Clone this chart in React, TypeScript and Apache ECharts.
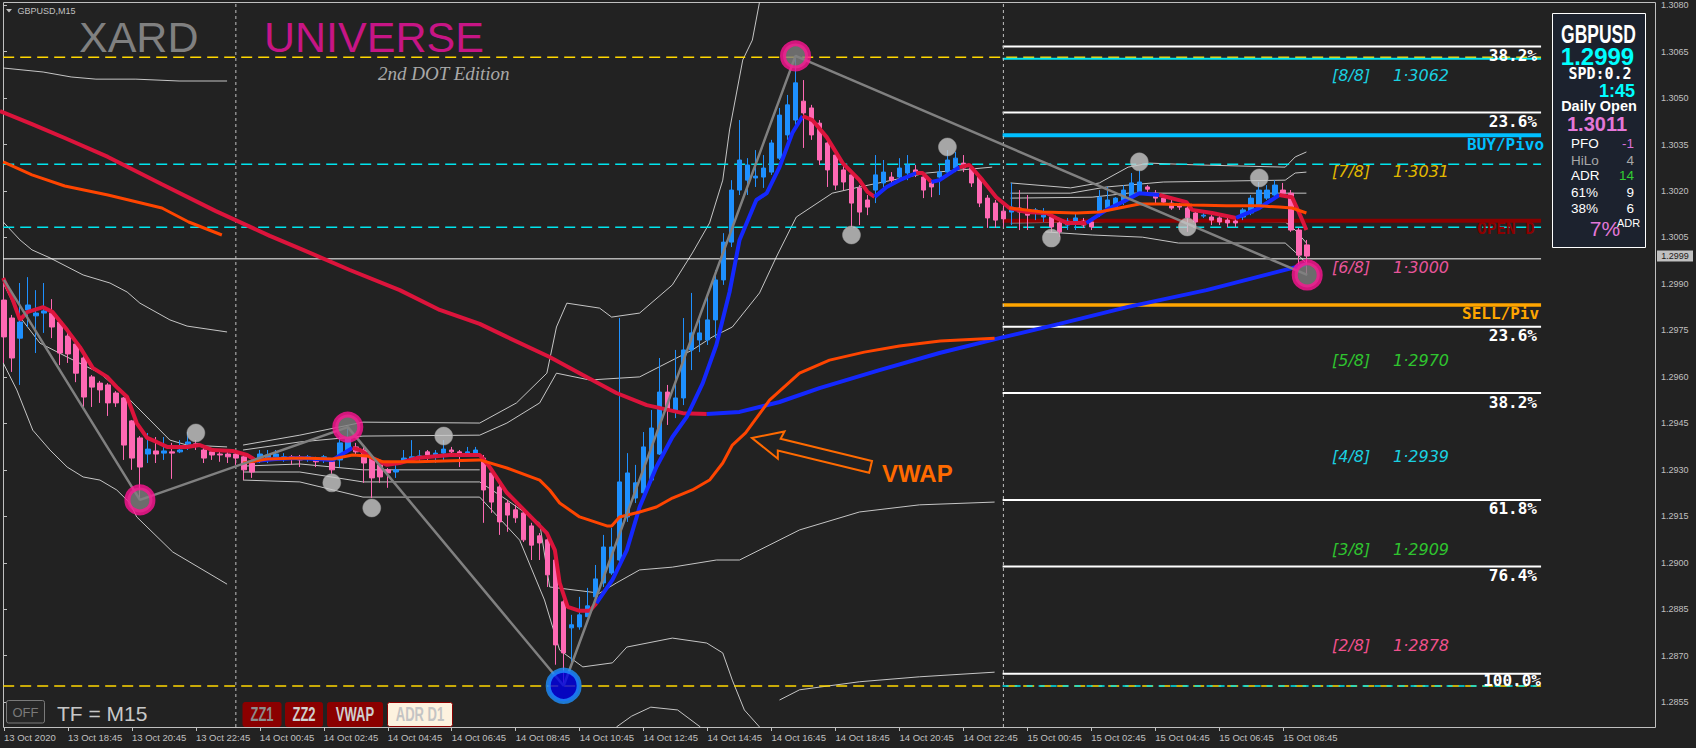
import React, { useEffect, useRef } from "react";
import * as echarts from "echarts";

// ---------------- data ----------------
const timeLabels = [
  "13 Oct 2020", "13 Oct 18:45", "13 Oct 20:45", "13 Oct 22:45", "14 Oct 00:45", "14 Oct 02:45",
  "14 Oct 04:45", "14 Oct 06:45", "14 Oct 08:45", "14 Oct 10:45", "14 Oct 12:45", "14 Oct 14:45",
  "14 Oct 16:45", "14 Oct 18:45", "14 Oct 20:45", "14 Oct 22:45", "15 Oct 00:45", "15 Oct 02:45",
  "15 Oct 04:45", "15 Oct 06:45", "15 Oct 08:45",
];
const barsPerLabel = 8;
const slotCount = 207;
const yMin = 1.2847;
const yMax = 1.3081;
const yTicks = [1.2855, 1.287, 1.2885, 1.29, 1.2915, 1.293, 1.2945, 1.296, 1.2975, 1.299, 1.3005, 1.302, 1.3035, 1.305, 1.3065, 1.308];
const lastPrice = 1.2999;
const daySeparators = [29, 125];

// [open, close, low, high]
const candles: number[][] = [
  [1.29848, 1.29729, 1.29645, 1.29913], [1.2979, 1.29661, 1.29616, 1.298], [1.29725, 1.29777, 1.29574, 1.29903],
  [1.29816, 1.29832, 1.29761, 1.29922], [1.29797, 1.29806, 1.29677, 1.2988], [1.29806, 1.29813, 1.29742, 1.29903],
  [1.29806, 1.29761, 1.29725, 1.29851], [1.29777, 1.29677, 1.29638, 1.29784], [1.29732, 1.29674, 1.29645, 1.29742],
  [1.29706, 1.29612, 1.29583, 1.29706], [1.29661, 1.29535, 1.29503, 1.29667], [1.296, 1.29567, 1.29503, 1.29606],
  [1.2958, 1.29558, 1.29516, 1.29587], [1.29574, 1.29516, 1.29474, 1.2958], [1.29548, 1.29516, 1.29503, 1.29554],
  [1.29532, 1.2938, 1.29332, 1.29535], [1.29458, 1.29338, 1.293, 1.29461], [1.29403, 1.29309, 1.29203, 1.29409],
  [1.29351, 1.29367, 1.29322, 1.29419], [1.29361, 1.29351, 1.29322, 1.29406], [1.29354, 1.29361, 1.29332, 1.29406],
  [1.29358, 1.29354, 1.29271, 1.29387], [1.29358, 1.29364, 1.29354, 1.29396], [1.29384, 1.2939, 1.29364, 1.29422],
  [1.29384, 1.29377, 1.29364, 1.29396], [1.29364, 1.29338, 1.29322, 1.29374], [1.29358, 1.29348, 1.29332, 1.29364],
  [1.29351, 1.29348, 1.29326, 1.29358], [1.29351, 1.29342, 1.29322, 1.29358], [1.29351, 1.29338, 1.29316, 1.29358],
  [1.29342, 1.293, 1.29267, 1.29348], [1.29322, 1.29293, 1.29274, 1.29342], [1.29338, 1.29351, 1.29322, 1.29364],
  [1.29338, 1.29348, 1.29322, 1.29364], [1.29342, 1.29351, 1.29332, 1.29364], [1.29338, 1.29342, 1.29326, 1.29354],
  [1.29342, 1.29335, 1.29316, 1.29348], [1.29338, 1.29332, 1.29309, 1.29348], [1.29335, 1.29342, 1.29326, 1.29348],
  [1.29335, 1.29326, 1.29309, 1.29342], [1.29332, 1.29342, 1.29322, 1.29348], [1.29326, 1.293, 1.29287, 1.29338],
  [1.29332, 1.29387, 1.29309, 1.29406], [1.29364, 1.29403, 1.29354, 1.29438], [1.29374, 1.29358, 1.29348, 1.29387],
  [1.29364, 1.29322, 1.29258, 1.29374], [1.29338, 1.29274, 1.29209, 1.29348], [1.29316, 1.29277, 1.29258, 1.29322],
  [1.293, 1.2929, 1.29242, 1.29306], [1.29293, 1.293, 1.29274, 1.29316], [1.29326, 1.29338, 1.29322, 1.29364],
  [1.29332, 1.29342, 1.29322, 1.29396], [1.29338, 1.29345, 1.29322, 1.29364], [1.29358, 1.29348, 1.29332, 1.29364],
  [1.29345, 1.29354, 1.29322, 1.29364], [1.29354, 1.29367, 1.29332, 1.29396], [1.29364, 1.29358, 1.29348, 1.29374],
  [1.29358, 1.29354, 1.29309, 1.29364], [1.29351, 1.29358, 1.29342, 1.29374], [1.29351, 1.29364, 1.29342, 1.29374],
  [1.29338, 1.29235, 1.29129, 1.29348], [1.2929, 1.29196, 1.29161, 1.293], [1.29245, 1.29132, 1.2909, 1.29258],
  [1.29193, 1.29154, 1.291, 1.29203], [1.29171, 1.29145, 1.29129, 1.29187], [1.29161, 1.29074, 1.29067, 1.29171],
  [1.29119, 1.29057, 1.29009, 1.29129], [1.29087, 1.29064, 1.29009, 1.29096], [1.29074, 1.28961, 1.28922, 1.29083],
  [1.29009, 1.28735, 1.28671, 1.29019], [1.28874, 1.28709, 1.28603, 1.2888], [1.2879, 1.288, 1.28677, 1.28832],
  [1.28793, 1.28832, 1.28784, 1.2889], [1.28826, 1.28861, 1.28826, 1.28919], [1.2889, 1.28948, 1.2888, 1.28993],
  [1.28935, 1.29051, 1.28922, 1.2909], [1.28967, 1.29051, 1.28961, 1.29113], [1.29009, 1.29261, 1.29003, 1.2979],
  [1.29148, 1.2929, 1.29132, 1.29354], [1.29209, 1.29258, 1.29193, 1.29316], [1.29226, 1.29374, 1.29209, 1.29422],
  [1.29267, 1.29435, 1.29258, 1.29493], [1.29351, 1.29551, 1.29348, 1.29661], [1.29551, 1.29493, 1.29445, 1.29574],
  [1.29493, 1.29532, 1.29467, 1.29687], [1.29532, 1.29687, 1.29509, 1.2979], [1.29687, 1.29742, 1.29622, 1.29871],
  [1.29719, 1.29742, 1.2968, 1.29784], [1.29719, 1.29784, 1.29703, 1.29871], [1.29784, 1.29913, 1.29725, 1.29945],
  [1.29913, 1.30035, 1.29897, 1.30064], [1.30035, 1.30203, 1.30019, 1.30235], [1.30203, 1.303, 1.30187, 1.30429],
  [1.30235, 1.30284, 1.30187, 1.30306], [1.30242, 1.30248, 1.30213, 1.30332], [1.30245, 1.30274, 1.3021, 1.30316],
  [1.30261, 1.30355, 1.30252, 1.30365], [1.30306, 1.30445, 1.303, 1.30468], [1.30381, 1.30478, 1.30365, 1.3051],
  [1.30429, 1.30549, 1.30413, 1.30636], [1.3049, 1.30452, 1.30339, 1.30558], [1.30468, 1.30381, 1.30365, 1.30478],
  [1.30419, 1.303, 1.30284, 1.30429], [1.30355, 1.30268, 1.30213, 1.30365], [1.30316, 1.30219, 1.30203, 1.30332],
  [1.30268, 1.30229, 1.30203, 1.30284], [1.30252, 1.30161, 1.30084, 1.30268], [1.3021, 1.30132, 1.3009, 1.30219],
  [1.30171, 1.30148, 1.30122, 1.30187], [1.30203, 1.30252, 1.30161, 1.30316], [1.30226, 1.30261, 1.30213, 1.303],
  [1.30245, 1.30235, 1.30219, 1.30261], [1.30245, 1.30274, 1.30229, 1.30306], [1.30258, 1.30284, 1.30235, 1.30316],
  [1.30268, 1.30261, 1.30245, 1.30284], [1.30245, 1.30203, 1.30177, 1.30261], [1.30226, 1.30213, 1.3018, 1.30235],
  [1.30245, 1.30261, 1.30187, 1.30284], [1.30261, 1.303, 1.30245, 1.30332], [1.30274, 1.30306, 1.30261, 1.30326],
  [1.3029, 1.30274, 1.30261, 1.30316], [1.30274, 1.30226, 1.30213, 1.30284], [1.30245, 1.30161, 1.30148, 1.30252],
  [1.30177, 1.30113, 1.30081, 1.30187], [1.30161, 1.30106, 1.30081, 1.30171], [1.30135, 1.3011, 1.30084, 1.30155],
  [1.30132, 1.30148, 1.3009, 1.30226], [1.30145, 1.30132, 1.30074, 1.30203], [1.30139, 1.30122, 1.30074, 1.30187],
  [1.30129, 1.30139, 1.30106, 1.30145], [1.30116, 1.30122, 1.301, 1.30145], [1.30116, 1.30084, 1.30068, 1.30122],
  [1.30097, 1.30068, 1.30052, 1.30106], [1.3009, 1.30103, 1.30074, 1.30113], [1.301, 1.30113, 1.30074, 1.30132],
  [1.30103, 1.3009, 1.30081, 1.30113], [1.301, 1.30084, 1.30074, 1.30106], [1.30129, 1.3018, 1.30116, 1.30203],
  [1.30145, 1.30171, 1.30139, 1.30213], [1.30148, 1.30177, 1.30139, 1.3018], [1.30164, 1.30203, 1.30155, 1.30219],
  [1.3018, 1.30226, 1.30171, 1.30258], [1.30197, 1.30229, 1.30187, 1.30268], [1.30213, 1.30206, 1.30197, 1.30219],
  [1.30193, 1.30177, 1.30161, 1.30203], [1.30177, 1.30164, 1.30155, 1.30187], [1.30161, 1.30145, 1.30139, 1.30171],
  [1.30155, 1.30148, 1.30139, 1.30161], [1.30145, 1.30113, 1.30068, 1.30155], [1.30129, 1.301, 1.30084, 1.30139],
  [1.30119, 1.30122, 1.30113, 1.30132], [1.30116, 1.30106, 1.3009, 1.30122], [1.30113, 1.301, 1.3009, 1.30119],
  [1.30106, 1.30097, 1.30084, 1.30113], [1.30103, 1.30097, 1.30084, 1.3011], [1.30116, 1.30139, 1.30106, 1.30145],
  [1.30129, 1.30177, 1.30122, 1.30187], [1.30155, 1.30203, 1.30145, 1.30229], [1.30177, 1.30203, 1.30171, 1.30219],
  [1.30187, 1.30219, 1.3018, 1.30235], [1.30203, 1.30193, 1.30187, 1.30226], [1.30193, 1.30074, 1.30068, 1.30203],
  [1.30074, 1.29993, 1.29961, 1.30081], [1.30026, 1.2999, 1.29929, 1.30042],
];

// fast moving average, split into falling (red) and rising (blue) runs: [bar, price]
const fastMaRuns: [string, number[][]][] = [
  ["down", [[-0.1, 1.29919], [1.1, 1.29848], [2, 1.29784], [2.9, 1.29809], [4.9, 1.29825], [6.1, 1.29809], [7.9, 1.29751], [9.5, 1.29696], [11.1, 1.29629], [12.9, 1.296], [14.1, 1.29567], [15.4, 1.29535], [16.6, 1.29451], [17.9, 1.29403], [19.1, 1.2939], [20.4, 1.29374], [22.9, 1.29374], [24.5, 1.2938], [26.1, 1.29364], [28.6, 1.29361], [30.4, 1.29348], [31.6, 1.29329]]],
  ["up", [[31.6, 1.29329], [34, 1.29335], [37, 1.29338], [41.1, 1.29332], [43.6, 1.29371]]],
  ["down", [[43.6, 1.29371], [44.5, 1.29364], [46.1, 1.29338], [47.9, 1.29316], [49.5, 1.29322], [51.6, 1.29338], [55.75, 1.29348], [59.5, 1.29348], [60.75, 1.29309], [62.9, 1.29226], [65.4, 1.29161], [67.9, 1.29096], [68.9, 1.29041], [69.5, 1.28935], [70.5, 1.28858], [72, 1.28845], [73.25, 1.28845], [74.1, 1.2887]]],
  ["up", [[74.1, 1.2887], [76.1, 1.28945], [77.9, 1.29041], [79.5, 1.2918], [81.6, 1.29309], [83.6, 1.29406], [85.4, 1.29471], [87.4, 1.2958], [89.1, 1.29703], [90.75, 1.29874], [92, 1.30042], [94.1, 1.30171], [95.4, 1.30193], [97, 1.30277], [98.6, 1.30387], [99.9, 1.30442]]],
  ["down", [[99.9, 1.30442], [101.1, 1.30429], [102.9, 1.30374], [104.9, 1.3029], [107, 1.30235], [108, 1.30197], [108.9, 1.30181]]],
  ["up", [[108.9, 1.30181], [110.4, 1.30213], [112, 1.30235], [114.1, 1.30258]]],
  ["down", [[114.1, 1.30258], [114.9, 1.30258], [116, 1.30229]]],
  ["up", [[116, 1.30229], [117, 1.30235], [119.5, 1.30277]]],
  ["down", [[119.5, 1.30277], [120.75, 1.30284], [122.4, 1.30235], [124.1, 1.3018], [125.75, 1.30145], [127.9, 1.30132], [130.4, 1.30129], [131.6, 1.30113], [132.9, 1.30097], [135.4, 1.30097]]],
  ["up", [[135.4, 1.30097], [137.9, 1.30139], [140.4, 1.30171], [142, 1.30193], [144.5, 1.30187]]],
  ["down", [[144.5, 1.30187], [147.9, 1.30164], [148.6, 1.30139], [151.1, 1.30129], [154.1, 1.30113]]],
  ["up", [[154.1, 1.30113], [157, 1.30145], [159.5, 1.30187]]],
  ["down", [[159.5, 1.30187], [161.1, 1.3018], [162, 1.30129], [162.9, 1.30074]]],
];

// slow moving average
const slowMaRuns: [string, number[][]][] = [
  ["down", [[-0.5, 1.30458], [3.5, 1.30416], [7.6, 1.30371], [13, 1.3031], [19.75, 1.30222], [26.5, 1.30135], [33.25, 1.30055], [37.4, 1.3001], [43.25, 1.29945], [49.5, 1.2988], [54.5, 1.29816], [59.5, 1.29771], [62.9, 1.29729], [68.25, 1.29664], [72.4, 1.29606], [76.6, 1.29548], [80.4, 1.29509], [84.9, 1.29483], [87.9, 1.2948]]],
  ["up", [[87.9, 1.2948], [92, 1.29487], [97, 1.29519], [102, 1.29564], [109.5, 1.29622], [117, 1.29677], [124.5, 1.29725], [132, 1.29771], [140.6, 1.29826], [150.4, 1.2988], [161.1, 1.29951], [162.9, 1.29964]]],
];

// daily VWAP lines
const vwap13 = [[-0.1, 1.30294], [3.5, 1.30252], [7.6, 1.30216], [13, 1.30187], [19.75, 1.30145], [23.1, 1.301], [27.25, 1.30058]];
const vwap14 = [[29.9, 1.29322], [32.9, 1.29335], [37, 1.29338], [41.1, 1.29335], [43.6, 1.29348], [45.4, 1.29345], [47.4, 1.29326], [51.6, 1.29326], [59.5, 1.29332], [62.9, 1.29306], [67, 1.29267], [68.25, 1.29235], [69.5, 1.29193], [72, 1.29148], [75.4, 1.29119], [76, 1.29119], [77, 1.29148], [79.5, 1.29164], [81.6, 1.2918], [83.6, 1.29209], [86.1, 1.29235], [88.25, 1.29267], [89.9, 1.29322], [91.1, 1.2938], [92.75, 1.29419], [95.75, 1.29525], [99.5, 1.29612], [103.25, 1.29654], [107.6, 1.2968], [112, 1.297], [117.1, 1.29716], [123.9, 1.29725]];
const vwap15 = [[125.75, 1.30145], [129.9, 1.30132], [134.1, 1.30129], [137, 1.30132], [139.5, 1.30145], [142, 1.30158], [144.5, 1.30158], [148.6, 1.30155], [152.9, 1.30152], [157, 1.30152], [159.5, 1.30148], [161.1, 1.30145], [162.9, 1.30129]];

// envelope / band lines per day
const bands13 = [
  [[-0.1, 1.30597], [4.9, 1.30584], [8.4, 1.30568], [11.5, 1.30561], [16.5, 1.30561], [21.9, 1.30555], [27.9, 1.30555]],
  [[-0.1, 1.301], [2, 1.30042], [3.5, 1.3001], [5.75, 1.29984], [9.9, 1.29929], [13.25, 1.29903], [15.4, 1.29874], [17, 1.29838], [20.75, 1.29784], [22.9, 1.29764], [27.9, 1.29745]],
  [[-0.1, 1.29903], [2, 1.29793], [4.5, 1.29709], [7.9, 1.29664], [12, 1.29612], [15.4, 1.29535], [18.25, 1.29461], [20.75, 1.29396], [22.9, 1.2938], [27.9, 1.29374]],
  [[-0.1, 1.29645], [1.6, 1.29558], [3.6, 1.29428], [5.75, 1.29364], [7.9, 1.29309], [9.9, 1.29277], [12, 1.29267], [14.1, 1.29235], [15.75, 1.29193], [16.6, 1.29148], [21.1, 1.29035], [27.9, 1.28931]],
];
const bands14 = [
  [[29.9, 1.2938], [37, 1.29412], [44.9, 1.29454], [59.5, 1.29451], [64.1, 1.29516], [67.9, 1.29612], [69.1, 1.29761], [70.4, 1.29838], [74.5, 1.29822], [76, 1.29793], [79.5, 1.29806], [83.6, 1.29897], [86.1, 1.3], [88.25, 1.30097], [89.9, 1.30235], [90.75, 1.30397], [92.4, 1.30623], [93.6, 1.30687], [94.5, 1.3081]],
  [[29.9, 1.29364], [37, 1.2939], [44.9, 1.29409], [59.5, 1.29412], [62.9, 1.29451], [67, 1.29516], [69.1, 1.29612], [73.25, 1.2959], [79.5, 1.296], [86.1, 1.29687], [88.6, 1.29729], [91.1, 1.29761], [94.5, 1.29871], [96.6, 1.29987], [99.1, 1.30116], [103.6, 1.30193], [107, 1.30213], [115.4, 1.30258], [123.6, 1.30277]],
  [[29.9, 1.29312], [37, 1.29319], [44.9, 1.293], [59.5, 1.293]],
  [[29.9, 1.29293], [37, 1.29293], [44.9, 1.29261], [59.5, 1.29261], [62.9, 1.29203], [67, 1.29128], [68.25, 1.28922], [74.5, 1.28902], [76.6, 1.28935], [79.5, 1.28977], [83.6, 1.28986], [89.1, 1.29009], [92, 1.29009], [99.5, 1.29106], [107, 1.29164], [114.5, 1.29187], [123.9, 1.29196]],
  [[29.9, 1.29267], [37, 1.29261], [44.9, 1.29212], [59.5, 1.29212], [64.5, 1.29073], [67.6, 1.2888], [69.5, 1.28718], [72.4, 1.28664], [76.1, 1.28677], [77.9, 1.28728], [83.6, 1.28757], [87.9, 1.28741], [89.9, 1.28709], [91.1, 1.28621], [92.6, 1.28525], [94.5, 1.2847]],
  [[97, 1.28557], [99.5, 1.2859], [107, 1.28616], [114.5, 1.28632], [123.9, 1.28647]],
  [[76.6, 1.2847], [78.5, 1.28505], [80.9, 1.28534], [84.25, 1.28525], [87.1, 1.2847]],
];
const bands15 = [
  [[125.9, 1.30226], [133.4, 1.3021], [137, 1.30226], [140.6, 1.30277], [143.25, 1.3029], [149.5, 1.30284], [160.25, 1.30277], [161.5, 1.3031], [162.9, 1.30326]],
  [[125.9, 1.30193], [133.4, 1.30193], [137.9, 1.30213], [145, 1.30229], [160.25, 1.30235], [161.5, 1.30258], [162.9, 1.30261]],
  [[125.9, 1.30177], [136.1, 1.3018], [140.6, 1.30193], [162.9, 1.30193]],
  [[125.9, 1.30097], [136.1, 1.301], [142.4, 1.30106], [160.25, 1.301], [161.5, 1.30074], [162.9, 1.30032]],
  [[130.25, 1.30068], [136.1, 1.30058], [142.4, 1.30051], [146.9, 1.30032], [160.25, 1.30032], [161.5, 1.30003], [162.9, 1.29967]],
];

// zigzag and pivots
const zigzag = [[0, 1.29913], [17, 1.29203], [43, 1.29438], [70, 1.28603], [99, 1.30636], [163, 1.29929]];
const pinkPivots = [[17, 1.29203], [43, 1.29438], [99, 1.30636], [163, 1.29929]];
const bluePivots = [[70, 1.28603]];
const fractals = [[24, 1.29419], [41, 1.29258], [46, 1.29177], [55, 1.29409], [106, 1.30058], [118, 1.30342], [131, 1.30048], [142, 1.30294], [148, 1.30084], [157, 1.30242]];

// horizontal levels
const chartStartBar = -0.1;
const levelStartBar = 124.9;
const levelEndBar = 192.25;
const rangeHigh = 1.30632;
const rangeLow = 1.28602;
const cyanLevels = [1.30286, 1.30083];
const whiteLevel = 1.29981;
const buyPivot = 1.3038;
const sellPivot = 1.29832;
const dailyOpenLevel = 1.30104;
const fibLevels = [1.30666, 1.30453, 1.29762, 1.29548, 1.29203, 1.28988, 1.28642];
const fibTexts = ["38.2%", "23.6%", "23.6%", "38.2%", "61.8%", "76.4%", "100.0%"];
const murreyLevels = [1.3062, 1.3031, 1.3, 1.297, 1.2939, 1.2909, 1.2878];
const murreyTags = ["[8/8]", "[7/8]", "[6/8]", "[5/8]", "[4/8]", "[3/8]", "[2/8]"];
const murreyValues = ["1·3062", "1·3031", "1·3000", "1·2970", "1·2939", "1·2909", "1·2878"];

// info panel values
const panelRows = [["PFO", "-1"], ["HiLo", "4"], ["ADR", "14"], ["61%", "9"], ["38%", "6"]];

// ---------------- styles ----------------
const SANS = '"Liberation Sans", Arial, sans-serif';
const MONO = '"DejaVu Sans Mono", "Liberation Mono", monospace';
const RED = "#dc143c";
const BLUE = "#1428ff";
const AXIS = "#c0c0c0";

function lineSeries(data: number[][], color: string, width: number, z: number, type: any = "solid") {
  return {
    type: "line",
    xAxisIndex: 1,
    yAxisIndex: 0,
    data,
    showSymbol: false,
    symbol: "none",
    silent: true,
    animation: false,
    z,
    lineStyle: { color, width, type },
    emphasis: { disabled: true },
  };
}

function buildOption() {
  const series: any[] = [];
  const bandColor = "rgba(215,215,215,0.9)";
  [...bands13, ...bands14, ...bands15].forEach((b) => series.push(lineSeries(b, bandColor, 1, 1)));

  // horizontal levels
  series.push(lineSeries([[chartStartBar, rangeHigh], [levelEndBar, rangeHigh]], "#ffd700", 1.5, 2, [11, 6]));
  series.push(lineSeries([[chartStartBar, rangeLow], [levelEndBar, rangeLow]], "#ffd700", 1.5, 2, [11, 6]));
  series.push(lineSeries([[levelStartBar, murreyLevels[0] + 0.00007], [levelEndBar, murreyLevels[0] + 0.00007]], "#00e5ee", 2, 2));
  series.push(lineSeries([[levelStartBar, rangeLow], [levelEndBar, rangeLow]], "#00e5ee", 1.5, 2, [6, 6]));
  cyanLevels.forEach((p) => series.push(lineSeries([[chartStartBar, p], [levelEndBar, p]], "#00e5ee", 1.5, 2, [11, 6])));
  series.push(lineSeries([[chartStartBar, whiteLevel], [levelEndBar, whiteLevel]], "#ffffff", 1, 2));
  fibLevels.forEach((p) => series.push(lineSeries([[levelStartBar, p], [levelEndBar, p]], "#ffffff", 2, 2)));
  series.push(lineSeries([[levelStartBar, buyPivot], [levelEndBar, buyPivot]], "#00bfff", 4, 2));
  series.push(lineSeries([[levelStartBar, sellPivot], [levelEndBar, sellPivot]], "#ffa500", 3.5, 2));
  series.push(lineSeries([[levelStartBar, dailyOpenLevel], [levelEndBar, dailyOpenLevel]], "#8b0000", 4, 2));
  daySeparators.forEach((b) => series.push(lineSeries([[b, yMin], [b, yMax]], AXIS, 1, 2, [3, 3])));

  series.push({
    type: "candlestick",
    xAxisIndex: 0,
    yAxisIndex: 0,
    data: candles,
    barWidth: 5,
    z: 3,
    silent: true,
    animation: false,
    itemStyle: { color: "#1e90ff", color0: "#ff69b4", borderColor: "#1e90ff", borderColor0: "#ff69b4", borderWidth: 1 },
  });

  slowMaRuns.forEach(([d, pts]) => series.push(lineSeries(pts, d === "up" ? BLUE : RED, 4, 4)));
  fastMaRuns.forEach(([d, pts]) => series.push(lineSeries(pts, d === "up" ? BLUE : RED, 4, 4)));
  [vwap13, vwap14, vwap15].forEach((v) => series.push(lineSeries(v, "#ff4500", 3, 5)));
  series.push(lineSeries(zigzag, "#808080", 2.5, 6));

  series.push({
    type: "scatter", xAxisIndex: 1, yAxisIndex: 0, data: fractals, symbolSize: 18, z: 7, silent: true, animation: false,
    itemStyle: { color: "#c8c8c8", borderColor: "#9a9a9a", borderWidth: 0.6 },
  });
  series.push({
    type: "scatter", xAxisIndex: 1, yAxisIndex: 0, data: pinkPivots, symbolSize: 25, z: 8, silent: true, animation: false,
    itemStyle: { color: "#808080", borderColor: "#ff1493", borderWidth: 6 },
  });
  series.push({
    type: "scatter", xAxisIndex: 1, yAxisIndex: 0, data: bluePivots, symbolSize: 31, z: 8, silent: true, animation: false,
    itemStyle: { color: "#0000e8", borderColor: "#1e90ff", borderWidth: 5 },
  });

  const showLabel = (i: number) => i % barsPerLabel === 0 && i / barsPerLabel < timeLabels.length;
  const cats = Array.from({ length: slotCount }, (_, i) => String(i));

  return {
    animation: false,
    backgroundColor: "#222222",
    grid: { left: 0, right: 41, top: 2, bottom: 21, containLabel: false, outerBoundsMode: "none" },
    xAxis: [
      {
        type: "category",
        data: cats,
        boundaryGap: true,
        axisLine: { show: false },
        splitLine: { show: false },
        axisTick: { show: true, alignWithLabel: true, interval: showLabel, length: 4, lineStyle: { color: AXIS } },
        axisLabel: {
          interval: showLabel,
          formatter: (_v: string, i: number) => timeLabels[i / barsPerLabel] || "",
          align: "left",
          color: AXIS,
          fontSize: 9.5,
          fontFamily: SANS,
          margin: 5,
        },
      },
      { type: "value", min: -0.5, max: slotCount - 0.5, show: false },
    ],
    yAxis: {
      type: "value",
      position: "right",
      min: yMin,
      max: yMax,
      axisLine: { show: false },
      splitLine: { show: false },
      axisTick: { show: true, customValues: yTicks, length: 3, lineStyle: { color: AXIS } },
      axisLabel: {
        customValues: yTicks,
        formatter: (v: number) => v.toFixed(4),
        color: AXIS,
        fontSize: 9,
        fontFamily: SANS,
        margin: 6,
      },
    },
    graphic: [],
    series,
  };
}

function txt(x: number, y: number, text: string, o: any = {}) {
  const el: any = {
    type: "text",
    x,
    y,
    z: 60,
    silent: true,
    style: {
      text,
      fill: o.color || "#ffffff",
      fontSize: o.size || 12,
      fontFamily: o.family || SANS,
      fontWeight: o.weight || "normal",
      fontStyle: o.style || "normal",
      align: o.align || "left",
      textAlign: o.align || "left",
      verticalAlign: "middle",
      textVerticalAlign: "middle",
    },
  };
  if (o.width) {
    el.style.width = o.width;
    el.style.overflow = "truncate";
    el.style.ellipsis = "";
  }
  if (o.scaleX) el.scaleX = o.scaleX;
  if (o.scaleY) el.scaleY = o.scaleY;
  return el;
}

function buildGraphic(chart: any) {
  const py = (price: number) => (chart.convertToPixel({ xAxisIndex: 1, yAxisIndex: 0 }, [0, price]) as number[])[1];
  const g: any[] = [];

  // plot frame
  g.push({ type: "rect", z: 1, silent: true, shape: { x: 3.5, y: 2.5, width: 1652, height: 725 }, style: { fill: "none", stroke: AXIS, lineWidth: 1 } });

  // current price tag on the price scale
  const tagY = py(lastPrice);
  g.push({ type: "rect", z: 60, silent: true, shape: { x: 1657, y: tagY - 5.5, width: 36, height: 11 }, style: { fill: "#c0c0c0" } });
  g.push(txt(1675, tagY, lastPrice.toFixed(4), { size: 9, color: "#1a1a1a", align: "center" }));

  // header
  g.push({ type: "polygon", z: 60, silent: true, shape: { points: [[6, 9], [12, 9], [9, 12.5]] }, style: { fill: AXIS } });
  g.push(txt(17.5, 10.5, "GBPUSD,M15", { size: 9, color: AXIS }));
  g.push(txt(79, 37, "XARD", { size: 43, color: "#808080" }));
  g.push(txt(264, 37, "UNIVERSE", { size: 43, color: "#c71585" }));
  g.push(txt(378, 73, "2nd DOT Edition", { size: 19, color: "#a8a8a8", family: '"Liberation Serif", serif', style: "italic" }));

  // bottom controls
  g.push({ type: "rect", z: 60, silent: true, shape: { x: 6.5, y: 700.5, width: 38, height: 22.5, r: 2 }, style: { fill: "#262626", stroke: "#7a7a7a", lineWidth: 1 } });
  g.push(txt(25.5, 712, "OFF", { size: 13, color: "#7a7a7a", align: "center" }));
  g.push(txt(57, 713, "TF = M15", { size: 21, color: "#c8c8c8" }));
  const buttons = [
    { x: 243, w: 38, t: "ZZ1", fill: "#8b0000", c: "#8c8c8c" },
    { x: 285.5, w: 37, t: "ZZ2", fill: "#8b0000", c: "#cfcfcf" },
    { x: 327.5, w: 55, t: "VWAP", fill: "#8b0000", c: "#cfcfcf" },
    { x: 387.5, w: 65, t: "ADR D1", fill: "#fdf2df", c: "#c4c4c4", stroke: "#8b0000" },
  ];
  buttons.forEach((b) => {
    g.push({ type: "rect", z: 60, silent: true, shape: { x: b.x, y: 702.5, width: b.w, height: 24, r: 2 }, style: { fill: b.fill, stroke: b.stroke || b.fill, lineWidth: 1 } });
    g.push(txt(b.x + b.w / 2, 714.5, b.t, { size: 20, weight: "bold", color: b.c, align: "center", scaleX: 0.65 }));
  });

  // VWAP annotation
  g.push({
    type: "polygon", z: 60, silent: true, x: 752, y: 438, rotation: -0.239,
    shape: { points: [[0, 0], [30, -14], [28, -6], [122, -6], [122, 6], [28, 6], [30, 14]] },
    style: { fill: "none", stroke: "#ff6a00", lineWidth: 2 },
  });
  g.push(txt(882, 473, "VWAP", { size: 24, weight: "bold", color: "#ff6a00" }));

  // fib labels
  fibLevels.forEach((p, i) => {
    const last = i === fibLevels.length - 1;
    g.push(txt(last ? 1541 : 1537, py(p) + (last ? 7 : 9), fibTexts[i], { size: 16, weight: "bold", family: MONO, align: "right" }));
  });

  // murrey labels
  const murreyColors = ["#1ad0e0", "#e0b800", "#e8559a", "#2fc42f", "#1ad0e0", "#2fc42f", "#f0508c"];
  murreyLevels.forEach((p, i) => {
    const y = py(p) + 15;
    g.push(txt(1332, y, murreyTags[i], { size: 16, style: "italic", family: '"DejaVu Sans", sans-serif', color: murreyColors[i] }));
    g.push(txt(1393, y, murreyValues[i], { size: 16, style: "italic", family: '"DejaVu Sans", sans-serif', color: murreyColors[i] }));
  });

  // pivot / open labels
  g.push(txt(1467, py(buyPivot) + 9, "BUY/Pivot", { size: 16, weight: "bold", family: MONO, color: "#00bfff", width: 79 }));
  g.push(txt(1462, py(sellPivot) + 8, "SELL/Pivot", { size: 16, weight: "bold", family: MONO, color: "#ffa500", width: 80 }));
  g.push(txt(1477, py(dailyOpenLevel) + 8, "OPEN DAY", { size: 16, weight: "bold", family: MONO, color: "#8b0000", width: 65 }));

  // info panel
  g.push({ type: "rect", z: 55, silent: true, shape: { x: 1552.5, y: 13.5, width: 93, height: 234 }, style: { fill: "#1c222e", stroke: "#ffffff", lineWidth: 1 } });
  g.push(txt(1598.5, 34, "GBPUSD", { size: 17.5, weight: "bold", align: "center", scaleY: 1.45 }));
  g.push(txt(1597.5, 56, lastPrice.toFixed(4), { size: 24, weight: "bold", color: "#00ffff", align: "center" }));
  g.push(txt(1600, 73.5, "SPD:0.2", { size: 15, weight: "bold", family: MONO, align: "center" }));
  g.push(txt(1635, 90.5, "1:45", { size: 18, weight: "bold", color: "#00ffff", align: "right" }));
  g.push(txt(1599, 106, "Daily Open", { size: 14.5, weight: "bold", align: "center" }));
  g.push(txt(1597, 124, "1.3011", { size: 20, weight: "bold", color: "#e377d8", align: "center" }));
  const rowY = [143, 160, 175, 192, 208];
  const labelColors = ["#ffffff", "#a8a8a8", "#ffffff", "#ffffff", "#ffffff"];
  const valueColors = ["#da70d6", "#a8a8a8", "#32cd32", "#ffffff", "#ffffff"];
  panelRows.forEach(([k, v], i) => {
    g.push(txt(1571, rowY[i], k, { size: 13.5, color: labelColors[i] }));
    g.push(txt(1634, rowY[i], v, { size: 13.5, color: valueColors[i], align: "right" }));
  });
  g.push(txt(1605, 228, "7%", { size: 21, color: "#e377d8", align: "center" }));
  g.push(txt(1617, 223, "ADR", { size: 11, color: "#ffffff" }));

  return g;
}

export default function App() {
  const ref = useRef<HTMLDivElement>(null);
  useEffect(() => {
    const el = ref.current as HTMLDivElement;
    const chart = echarts.init(el, null, { renderer: "svg" });
    chart.setOption(buildOption() as any);
    chart.setOption({ graphic: buildGraphic(chart) } as any);
    return () => chart.dispose();
  }, []);
  return <div ref={ref} style={{ position: "fixed", left: 0, top: 0, width: 1696, height: 748 }} />;
}
